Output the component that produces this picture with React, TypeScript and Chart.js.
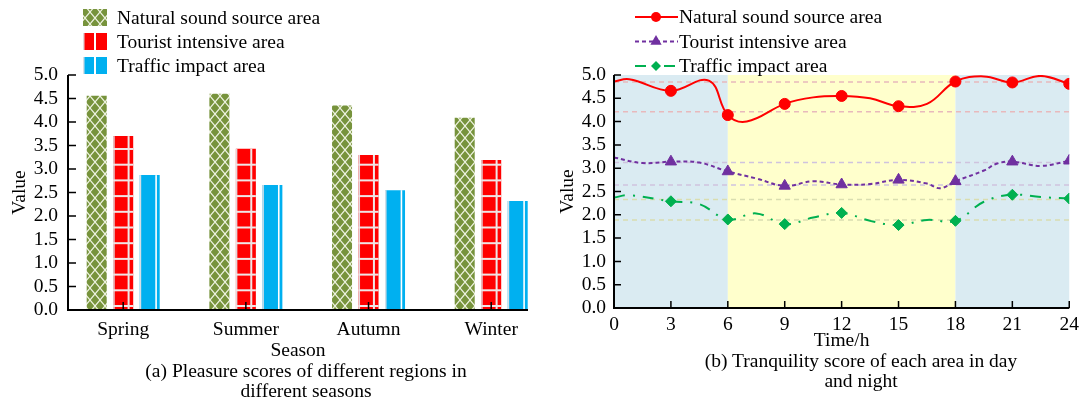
import React, { useEffect, useRef } from 'react';
import { Chart, registerables } from 'chart.js';

Chart.register(...registerables);

const FONT = "'Liberation Serif', 'Times New Roman', Times, serif";
const FONT_SIZE = 19.5;
Chart.defaults.font.family = FONT;
Chart.defaults.font.size = FONT_SIZE;
Chart.defaults.color = '#000';

// ---------- (a) Pleasure scores by season ----------
const seasons = ['Spring', 'Summer', 'Autumn', 'Winter'];
const seriesNames = ['Natural sound source area', 'Tourist intensive area', 'Traffic impact area'];
const naturalPleasure = [4.56, 4.6, 4.35, 4.09];
const touristPleasure = [3.7, 3.43, 3.3, 3.19];
const trafficPleasure = [2.87, 2.66, 2.55, 2.32];
const valueMin = 0;
const valueMax = 5;
const valueStep = 0.5;

// ---------- (b) Tranquility score over the day ----------
const hourMin = 0;
const hourMax = 24;
const hourStep = 3;
const dayStart = 6;
const dayEnd = 18;
const naturalHours = [0, 0.8, 3, 5, 6, 7, 9, 10.5, 12, 13.5, 15, 16.5, 18, 19.5, 21, 22.5, 24];
const naturalTranquility = [4.86, 4.91, 4.66, 4.88, 4.14, 4.0, 4.38, 4.52, 4.55, 4.5, 4.33, 4.38, 4.86, 4.97, 4.84, 4.98, 4.81];
const touristHours = [0, 1.5, 3, 4.5, 6, 7.5, 9, 10.5, 12, 13.5, 15, 16.5, 17.2, 18, 19.5, 20.2, 21, 22.5, 24];
const touristTranquility = [3.23, 3.11, 3.14, 3.12, 2.93, 2.78, 2.62, 2.72, 2.65, 2.66, 2.75, 2.67, 2.57, 2.72, 2.95, 3.1, 3.14, 3.05, 3.16];
const trafficHours = [0, 0.8, 3, 4.5, 6, 7.5, 9, 10.5, 12, 13.5, 15, 16.5, 18, 19.5, 21, 22.5, 24];
const trafficTranquility = [2.37, 2.42, 2.29, 2.23, 1.9, 2.03, 1.8, 1.94, 2.04, 1.87, 1.78, 1.89, 1.87, 2.28, 2.43, 2.38, 2.35];
const referenceLevels = [4.85, 4.21, 3.12, 2.64, 2.33, 1.89];

// ---------- styles ----------
const OLIVE = '#77933C';
const RED = '#FF0000';
const BLUE = '#00B0F0';
const PURPLE = '#7030A0';
const GREEN = '#00B050';
const refColors = ['#E8B9BC', '#E8B9BC', '#CFC3DE', '#CFC3DE', '#D9DDB0', '#D9DDB0'];
const NIGHT_BG = '#DAEBF2';
const DAY_BG = '#FFFFCC';

function makeLattice(): CanvasPattern | string {
  const c = document.createElement('canvas');
  c.width = 10;
  c.height = 12;
  const g = c.getContext('2d');
  if (!g) return OLIVE;
  g.fillStyle = OLIVE;
  g.fillRect(0, 0, 10, 12);
  g.strokeStyle = '#EEF2E0';
  g.lineWidth = 1.2;
  g.beginPath();
  g.moveTo(0, 0);
  g.lineTo(10, 12);
  g.moveTo(10, 0);
  g.lineTo(0, 12);
  g.stroke();
  const p = g.createPattern(c, 'repeat');
  return p || OLIVE;
}

const axisPlugin = {
  id: 'axisTicks',
  afterDatasetsDraw(chart: any, _args: any, opts: any) {
    const { ctx, chartArea: a, scales } = chart;
    const len = opts.len || 7;
    ctx.save();
    ctx.strokeStyle = '#000';
    ctx.lineWidth = 1.5;
    ctx.beginPath();
    scales.y.ticks.forEach((t: any) => {
      const py = scales.y.getPixelForValue(t.value);
      ctx.moveTo(a.left, py);
      ctx.lineTo(a.left + len, py);
    });
    scales.x.ticks.forEach((t: any) => {
      const px = scales.x.getPixelForValue(t.value);
      ctx.moveTo(px, a.bottom);
      ctx.lineTo(px, a.bottom - len);
    });
    ctx.stroke();
    ctx.lineWidth = 2;
    ctx.beginPath();
    ctx.moveTo(a.left, a.top);
    ctx.lineTo(a.left, a.bottom);
    ctx.lineTo(a.right, a.bottom);
    ctx.stroke();
    ctx.restore();
  },
};

const barDecorPlugin = {
  id: 'barDecor',
  afterDatasetsDraw(chart: any) {
    const ctx = chart.ctx;
    ctx.save();
    [1, 2].forEach((di) => {
      const meta = chart.getDatasetMeta(di);
      meta.data.forEach((bar: any) => {
        const { x, y, base, width } = bar.getProps(['x', 'y', 'base', 'width'], true);
        const left = x - width / 2;
        ctx.fillStyle = 'rgba(225,225,230,0.95)';
        ctx.fillRect(left, y, 1.5, base - y);
        if (di === 1) {
          ctx.fillStyle = '#EFE6E6';
          for (let yy = base - 4; yy > y + 2; yy -= 15.7) {
            ctx.fillRect(left, yy - 1, width, 2);
          }
          ctx.fillRect(left + width * 0.72, y, 2, base - y);
        } else {
          ctx.fillStyle = '#FFFFFF';
          ctx.fillRect(left + width * 0.78, y, 1.6, base - y);
        }
      });
    });
    ctx.restore();
  },
};

const barLegendPlugin = {
  id: 'barLegend',
  afterDraw(chart: any) {
    const ctx = chart.ctx;
    const rows = [17.5, 41.5, 65.5];
    ctx.save();
    chart.data.datasets.forEach((ds: any, i: number) => {
      const y = rows[i];
      const x0 = 83;
      const w = 24;
      const h = 17;
      ctx.fillStyle = ds.backgroundColor;
      ctx.fillRect(x0, y - h / 2, w, h);
      if (i > 0) {
        ctx.fillStyle = '#FFFFFF';
        ctx.fillRect(x0 + 11, y - h / 2, 2, h);
        ctx.fillStyle = 'rgba(225,225,230,0.95)';
        ctx.fillRect(x0, y - h / 2, 1.5, h);
      }
      ctx.fillStyle = '#000';
      ctx.font = `${FONT_SIZE}px ${FONT}`;
      ctx.textBaseline = 'middle';
      ctx.textAlign = 'left';
      ctx.fillText(ds.label, 117, y + 1);
    });
    ctx.restore();
  },
};

function drawMarker(ctx: CanvasRenderingContext2D, style: string, x: number, y: number, r: number, color: string) {
  ctx.fillStyle = color;
  ctx.beginPath();
  if (style === 'circle') {
    ctx.arc(x, y, r, 0, Math.PI * 2);
  } else if (style === 'triangle') {
    let rad = 0;
    ctx.moveTo(x + Math.sin(rad) * r, y - Math.cos(rad) * r);
    rad += (2 * Math.PI) / 3;
    ctx.lineTo(x + Math.sin(rad) * r, y - Math.cos(rad) * r);
    rad += (2 * Math.PI) / 3;
    ctx.lineTo(x + Math.sin(rad) * r, y - Math.cos(rad) * r);
    ctx.closePath();
  } else {
    ctx.moveTo(x - r, y);
    ctx.lineTo(x, y - r);
    ctx.lineTo(x + r, y);
    ctx.lineTo(x, y + r);
    ctx.closePath();
  }
  ctx.fill();
}

const lineLegendPlugin = {
  id: 'lineLegend',
  afterDraw(chart: any) {
    const ctx = chart.ctx;
    const rows = [17, 41.5, 66];
    ctx.save();
    chart.data.datasets
      .filter((ds: any) => ds.label)
      .forEach((ds: any, i: number) => {
        const y = rows[i];
        ctx.strokeStyle = ds.borderColor;
        ctx.lineWidth = 2;
        ctx.setLineDash(ds.borderDash || []);
        ctx.beginPath();
        ctx.moveTo(95, y);
        ctx.lineTo(138, y);
        ctx.stroke();
        ctx.setLineDash([]);
        drawMarker(ctx, ds.pointStyle, 116, y, ds.legendRadius, ds.borderColor);
        ctx.fillStyle = '#000';
        ctx.font = `${FONT_SIZE}px ${FONT}`;
        ctx.textBaseline = 'middle';
        ctx.textAlign = 'left';
        ctx.fillText(ds.label, 139, y + 1);
      });
    ctx.restore();
  },
};

const shadePlugin = {
  id: 'shade',
  beforeDatasetsDraw(chart: any) {
    const { ctx, chartArea: a, scales } = chart;
    const xs = scales.x;
    const bands: [number, number, string][] = [
      [hourMin, dayStart, NIGHT_BG],
      [dayStart, dayEnd, DAY_BG],
      [dayEnd, hourMax, NIGHT_BG],
    ];
    ctx.save();
    bands.forEach(([s, e, col]) => {
      const x1 = xs.getPixelForValue(s);
      const x2 = xs.getPixelForValue(e);
      ctx.fillStyle = col;
      ctx.fillRect(x1, a.top, x2 - x1, a.bottom - a.top);
    });
    ctx.restore();
  },
};

const markerRadii = (hours: number[], r: number) => hours.map((h) => (h > 0 && h % hourStep === 0 ? r : 0));
const toPoints = (xs: number[], ys: number[]) => xs.map((x, i) => ({ x, y: ys[i] }));

export default function App() {
  const leftRef = useRef<HTMLCanvasElement>(null);
  const rightRef = useRef<HTMLCanvasElement>(null);

  useEffect(() => {
    const lattice = makeLattice();
    const positions = seasons.map((_, i) => i + 1);
    const barData = [naturalPleasure, touristPleasure, trafficPleasure];
    const barColors = [lattice, RED, BLUE];

    const c1 = new Chart(leftRef.current as HTMLCanvasElement, {
      type: 'bar',
      data: {
        datasets: barData.map((vals, i) => ({
          label: seriesNames[i],
          data: toPoints(positions, vals),
          backgroundColor: barColors[i] as any,
          borderWidth: 0,
          categoryPercentage: 0.648,
          barPercentage: 0.755,
        })),
      },
      options: {
        responsive: false,
        animation: false,
        events: [],
        layout: { padding: { top: 75, right: 32, left: 0, bottom: 0 } },
        plugins: {
          legend: { display: false },
          tooltip: { enabled: false },
          axisTicks: { len: 8 },
        } as any,
        scales: {
          x: {
            type: 'linear',
            min: 0.55,
            max: 4.3,
            offset: false,
            grid: { display: false, drawTicks: false },
            border: { display: false },
            afterBuildTicks: (s: any) => {
              s.ticks = positions.map((v) => ({ value: v }));
            },
            afterFit: (s: any) => {
              s.height = 95;
            },
            ticks: {
              padding: 8,
              autoSkip: false,
              maxRotation: 0,
              callback: (v: any) => seasons[Number(v) - 1] ?? '',
            },
            title: { display: true, text: 'Season', padding: { top: 0, bottom: 42 } },
          },
          y: {
            min: valueMin,
            max: valueMax,
            grid: { display: false, drawTicks: false },
            border: { display: false },
            afterFit: (s: any) => {
              s.width = 68;
            },
            ticks: {
              stepSize: valueStep,
              autoSkip: false,
              padding: 10,
              callback: (v: any) => Number(v).toFixed(1),
            },
            title: { display: true, text: 'Value', padding: { top: 8, bottom: 0 } },
          },
        },
      },
      plugins: [barDecorPlugin, axisPlugin, barLegendPlugin],
    } as any);

    const lineSeries = [
      { hours: naturalHours, vals: naturalTranquility, color: RED, style: 'circle', r: 5.5, lr: 5, dash: [] as number[] },
      { hours: touristHours, vals: touristTranquility, color: PURPLE, style: 'triangle', r: 6.5, lr: 6.5, dash: [4, 3] },
      { hours: trafficHours, vals: trafficTranquility, color: GREEN, style: 'rectRot', r: 5.5, lr: 5, dash: [11, 8, 2, 8] },
    ];

    const c2 = new Chart(rightRef.current as HTMLCanvasElement, {
      type: 'line',
      data: {
        datasets: [
          ...lineSeries.map((s, i) => ({
            label: seriesNames[i],
            data: toPoints(s.hours, s.vals),
            borderColor: s.color,
            backgroundColor: s.color,
            borderWidth: 2,
            borderDash: s.dash,
            tension: 0.4,
            pointStyle: s.style,
            pointRadius: markerRadii(s.hours, s.r),
            pointBorderWidth: 1,
            pointBorderColor: s.color,
            pointBackgroundColor: s.color,
            legendRadius: s.lr,
            order: 0,
          })),
          ...referenceLevels.map((v, i) => ({
            label: '',
            data: [
              { x: hourMin, y: v },
              { x: hourMax, y: v },
            ],
            borderColor: refColors[i],
            borderDash: [5, 4],
            borderWidth: 1.5,
            pointRadius: 0,
            order: 5,
          })),
        ],
      },
      options: {
        responsive: false,
        animation: false,
        events: [],
        layout: { padding: { top: 75, right: 10, left: 0, bottom: 0 } },
        plugins: {
          legend: { display: false },
          tooltip: { enabled: false },
          axisTicks: { len: 7 },
        } as any,
        scales: {
          x: {
            type: 'linear',
            min: hourMin,
            max: hourMax,
            grid: { display: false, drawTicks: false },
            border: { display: false },
            afterFit: (s: any) => {
              s.height = 97;
            },
            ticks: { stepSize: hourStep, padding: 5, autoSkip: false, maxRotation: 0 },
            title: { display: true, text: 'Time/h', padding: { top: 0, bottom: 52 } },
          },
          y: {
            min: valueMin,
            max: valueMax,
            grid: { display: false, drawTicks: false },
            border: { display: false },
            afterFit: (s: any) => {
              s.width = 74;
            },
            ticks: {
              stepSize: valueStep,
              autoSkip: false,
              padding: 8,
              callback: (v: any) => Number(v).toFixed(1),
            },
            title: { display: true, text: 'Value', padding: { top: 16, bottom: 0 } },
          },
        },
      },
      plugins: [shadePlugin, axisPlugin, lineLegendPlugin],
    } as any);

    return () => {
      c1.destroy();
      c2.destroy();
    };
  }, []);

  const caption = (cx: number, top: number): React.CSSProperties => ({
    position: 'absolute',
    left: cx - 260,
    width: 520,
    top,
    textAlign: 'center',
    fontFamily: FONT,
    fontSize: FONT_SIZE,
    lineHeight: '20px',
    color: '#000',
    whiteSpace: 'nowrap',
  });

  return (
    <div style={{ position: 'absolute', left: 0, top: 0, width: 1084, height: 405, background: '#fff', overflow: 'hidden' }}>
      <canvas ref={leftRef} width={560} height={405} style={{ position: 'absolute', left: 0, top: 0 }} />
      <canvas ref={rightRef} width={544} height={405} style={{ position: 'absolute', left: 540, top: 0 }} />
      <div style={caption(306, 361)}>
        (a) Pleasure scores of different regions in
        <br />
        different seasons
      </div>
      <div style={caption(861, 351)}>
        (b) Tranquility score of each area in day
        <br />
        and night
      </div>
    </div>
  );
}
